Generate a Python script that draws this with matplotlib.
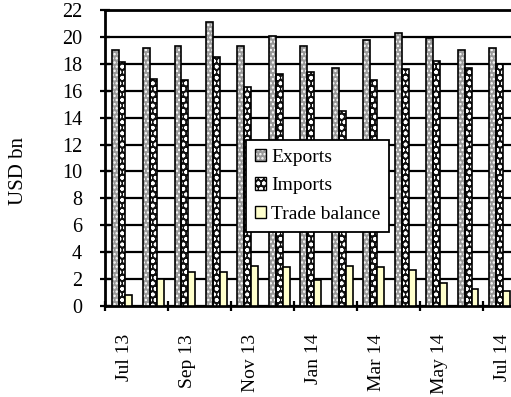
import matplotlib
matplotlib.use("Agg")
import matplotlib.pyplot as plt
import matplotlib.transforms as mtransforms
from matplotlib.patches import Patch
import numpy as np

months = ["Jul 13", "Aug 13", "Sep 13", "Oct 13", "Nov 13", "Dec 13", "Jan 14",
          "Feb 14", "Mar 14", "Apr 14", "May 14", "Jun 14", "Jul 14"]
exports = [19.0, 19.15, 19.35, 21.1, 19.3, 20.1, 19.3, 17.7, 19.8, 20.3, 19.9, 19.0, 19.2]
imports = [18.1, 16.9, 16.8, 18.5, 16.3, 17.25, 17.4, 14.5, 16.8, 17.6, 18.2, 17.7, 18.0]
trade_balance = [0.8, 2.0, 2.5, 2.5, 3.0, 2.9, 1.9, 3.0, 2.9, 2.7, 1.7, 1.3, 1.1]
yticks = list(range(0, 23, 2))
label_every = 2

plt.rcParams['font.family'] = ['Liberation Serif', 'DejaVu Serif']
plt.rcParams['hatch.linewidth'] = 1.1

W, H = 511, 397
fig = plt.figure(figsize=(W / 100, H / 100), dpi=100)
ax = fig.add_axes([105 / W, (H - 306) / H, 409 / W, 296 / H])

x = np.arange(len(months))
bw = 0.22
shift = 0.04

series = [
    (exports, -bw, "#999999", "....", "white", "Exports"),
    (imports, 0.0, "#111111", "ooo", "white", "Imports"),
    (trade_balance, bw, "#ffffcc", None, None, "Trade balance"),
]
handles = []
labels = []
for vals, off, fc, hatch, hc, lab in series:
    if hatch:
        ax.bar(x + off + shift, vals, width=bw, facecolor=fc, hatch=hatch,
               edgecolor=hc, linewidth=0, zorder=3)
        ax.bar(x + off + shift, vals, width=bw, facecolor="none",
               edgecolor="black", linewidth=1.2, zorder=4)
        handles.append((Patch(facecolor=fc, hatch=hatch, edgecolor=hc, linewidth=0),
                        Patch(facecolor="none", edgecolor="black", linewidth=1.0)))
    else:
        ax.bar(x + off + shift, vals, width=bw, facecolor=fc,
               edgecolor="black", linewidth=1.2, zorder=4)
        handles.append(Patch(facecolor=fc, edgecolor="black", linewidth=1.0))
    labels.append(lab)

ax.set_xlim(-0.5, len(months) - 0.5)
ax.set_ylim(0, 22)
ax.set_yticks(yticks)
ax.set_yticklabels([str(v) for v in yticks])
ax.yaxis.grid(True, color="black", linewidth=1.6, zorder=0)
ax.set_axisbelow(True)

# major ticks at category boundaries, every 2
ax.set_xticks(np.arange(-0.5, len(months) - 0.5, label_every))
ax.set_xticklabels([])
# labels at category centres
ax.set_xticks(x[::label_every], minor=True)
ax.set_xticklabels(months[::label_every], minor=True, rotation=90,
                   fontsize=14, va="top", ha="center")
ax.tick_params(axis="x", which="minor", length=0, pad=20)
ax.tick_params(axis="x", which="major", direction="inout", length=7, width=1.6)
ax.tick_params(axis="y", direction="inout", length=7, width=1.6, pad=13,
               labelsize=14.5)
offset = mtransforms.ScaledTranslation(4 / 100, 0, fig.dpi_scale_trans)
for lbl in ax.get_xticklabels(minor=True):
    lbl.set_transform(lbl.get_transform() + offset)

for s in ["left", "bottom", "top"]:
    ax.spines[s].set_linewidth(2.0)
    ax.spines[s].set_color("black")
ax.spines["right"].set_visible(False)

ax.set_ylabel("USD bn", fontsize=15, labelpad=0)
ax.yaxis.set_label_coords(-77 / 409, (306 - 171) / 296)

leg = ax.legend(handles=handles, labels=labels, loc="upper left",
                bbox_to_anchor=(246 / W, (H - 140) / H),
                bbox_transform=fig.transFigure, fontsize=14, frameon=True,
                fancybox=False, edgecolor="black", framealpha=1,
                handlelength=0.6, handleheight=0.6, handletextpad=0.25,
                labelspacing=0.6, borderpad=0.45, borderaxespad=0)
leg.get_frame().set_linewidth(1.3)
leg.set_zorder(10)

fig.savefig("out.png", dpi=100)
